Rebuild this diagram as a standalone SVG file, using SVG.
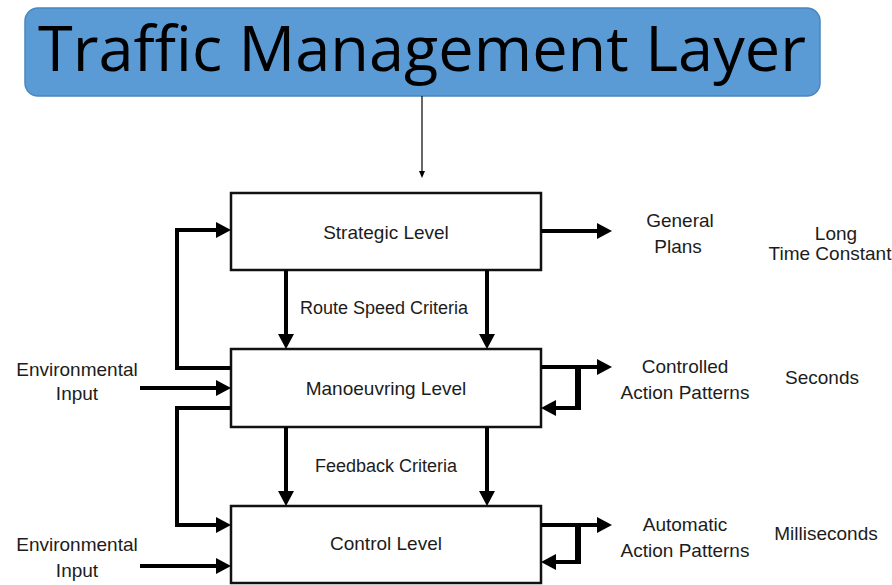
<svg xmlns="http://www.w3.org/2000/svg" width="892" height="585" viewBox="0 0 892 585">
<style>
.box{fill:#fff;stroke:#111;stroke-width:2.5}
.lbl{font-family:"Liberation Sans",Arial,sans-serif;font-size:19px;fill:#1c1c1c;text-anchor:middle}
.sm{font-size:18px}
.con{fill:none;stroke:#000;stroke-width:4;stroke-linejoin:miter}
.thick{fill:none;stroke:#000;stroke-width:6}
</style>
<defs>
<marker id="ah" viewBox="0 -8 15 16" markerUnits="userSpaceOnUse" markerWidth="15" markerHeight="16" refX="0" refY="0" orient="auto">
<path d="M0,-8 L15,0 L0,8 z" fill="#000"/>
</marker>
<marker id="ahs" viewBox="0 -3 7 6" markerUnits="userSpaceOnUse" markerWidth="7" markerHeight="6" refX="0" refY="0" orient="auto">
<path d="M0,-3 L7,0 L0,3 z" fill="#000"/>
</marker>
</defs>
<rect width="892" height="585" fill="#fff"/>
<g id="title">
<rect x="25" y="8" width="795" height="88" rx="13" fill="#5B9BD5" stroke="#4A86BE" stroke-width="1.5"/>
<text x="422" y="71" font-family="'Open Sans',sans-serif" font-size="63" font-weight="500" text-anchor="middle" textLength="768" lengthAdjust="spacingAndGlyphs" fill="#000">Traffic Management Layer</text>
</g>
<g id="strategic">
<rect class="box" x="231" y="193" width="310" height="77"/>
<text class="lbl" x="386" y="239">Strategic Level</text>
</g>
<g id="manoeuvring">
<rect class="box" x="231" y="349" width="310" height="78"/>
<text class="lbl" x="386" y="395">Manoeuvring Level</text>
</g>
<g id="control">
<rect class="box" x="231" y="506" width="310" height="77"/>
<text class="lbl" x="386" y="550">Control Level</text>
</g>
<g id="labels">
<text class="lbl sm" x="384" y="314">Route Speed Criteria</text>
<text class="lbl sm" x="386" y="472">Feedback Criteria</text>
<text class="lbl" x="77" y="376">Environmental</text>
<text class="lbl" x="77" y="400">Input</text>
<text class="lbl" x="77" y="551">Environmental</text>
<text class="lbl" x="77" y="577">Input</text>
<text class="lbl" x="680" y="227">General</text>
<text class="lbl" x="678" y="253">Plans</text>
<text class="lbl" x="836" y="240">Long</text>
<text class="lbl" x="830" y="260">Time Constant</text>
<text class="lbl" x="685" y="373">Controlled</text>
<text class="lbl" x="685" y="399">Action Patterns</text>
<text class="lbl" x="822" y="384">Seconds</text>
<text class="lbl" x="685" y="531">Automatic</text>
<text class="lbl" x="685" y="557">Action Patterns</text>
<text class="lbl" x="826" y="540">Milliseconds</text>
</g>
<g id="connectors">
<path d="M422,96 V171" fill="none" stroke="#000" stroke-width="1.2" marker-end="url(#ahs)"/>
<path class="con" d="M541,231 H597" marker-end="url(#ah)"/>
<path class="con" d="M286,270 V334" marker-end="url(#ah)"/>
<path class="con" d="M487,270 V334" marker-end="url(#ah)"/>
<path class="con" d="M231,368 H177 V230 H216" marker-end="url(#ah)"/>
<path class="con" d="M140,388 H216" marker-end="url(#ah)"/>
<path class="con" d="M231,408 H177 V525 H216" marker-end="url(#ah)"/>
<path class="con" d="M140,566 H216" marker-end="url(#ah)"/>
<path class="con" d="M286,427 V491" marker-end="url(#ah)"/>
<path class="con" d="M487,427 V491" marker-end="url(#ah)"/>
<path class="con" d="M541,367 H597" marker-end="url(#ah)"/>
<path class="con" d="M578,367 V408 H556" marker-end="url(#ah)"/>
<path class="thick" d="M578,367 V410"/>
<path class="con" d="M541,525 H597" marker-end="url(#ah)"/>
<path class="con" d="M578,525 V562 H556" marker-end="url(#ah)"/>
<path class="thick" d="M578,525 V564"/>
</g>
</svg>
